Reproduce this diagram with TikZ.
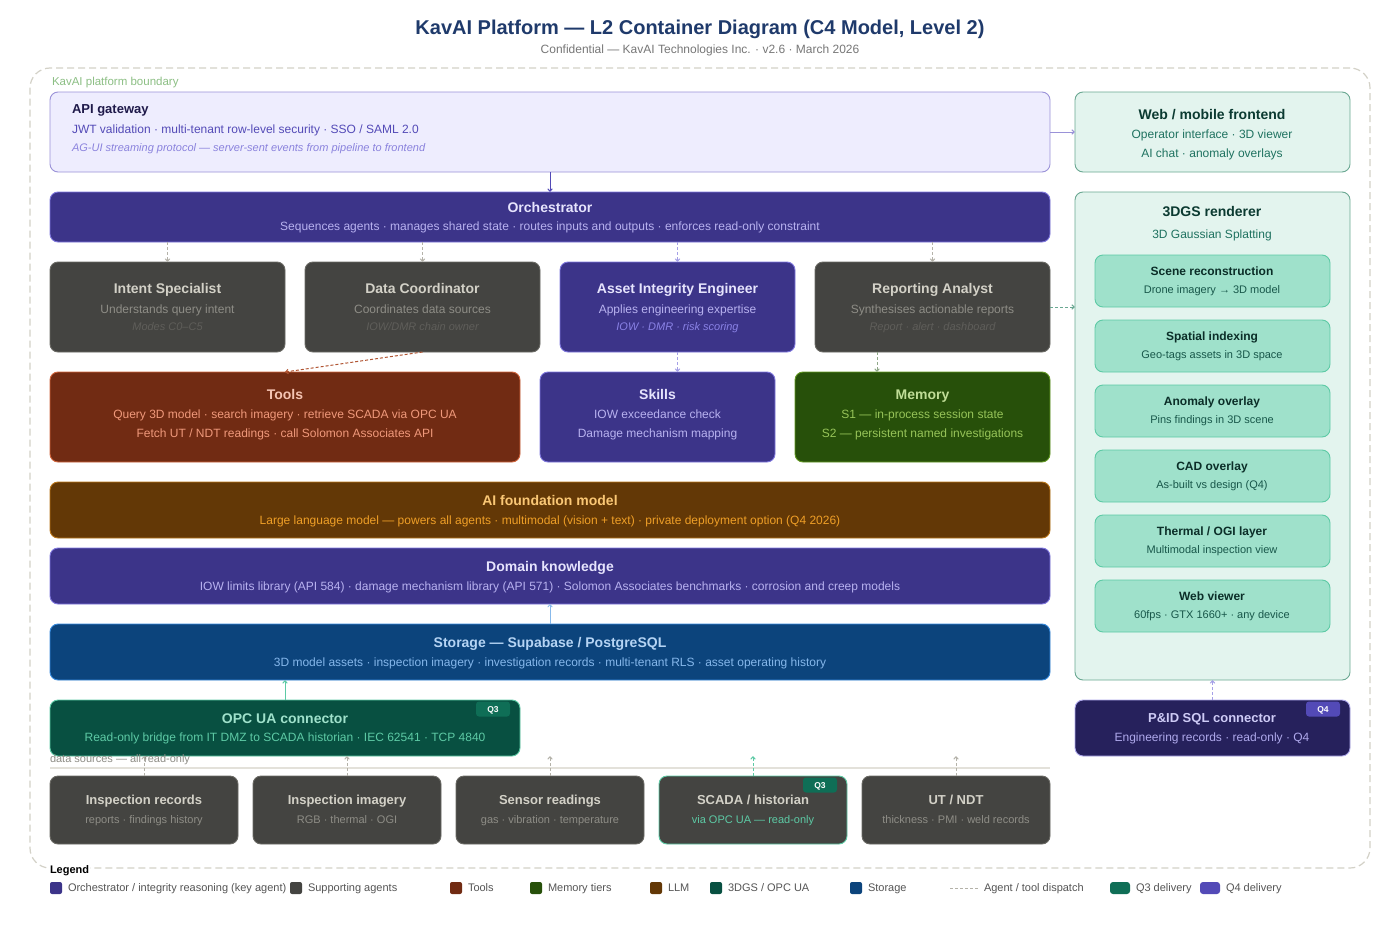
\documentclass[tikz,border=0pt]{standalone}
\usepackage{fontspec}
\setmainfont{Liberation Sans}
\usetikzlibrary{arrows.meta,calc}
\newcommand\kfs[1]{\fontsize{#1pt}{#1pt}\selectfont}
\newcommand\kbox[6]{\node[#2, anchor=north west, minimum width=#5pt, minimum height=#6pt] (#1) at (#3,#4) {};}
\definecolor{cTitle}{HTML}{1F3A6B}
\definecolor{cSub}{HTML}{777777}
\definecolor{cBoundLine}{HTML}{D3D1C7}
\definecolor{cBound}{HTML}{8CBF84}
\definecolor{cApiF}{HTML}{EEEDFE}
\definecolor{cApiB}{HTML}{9A92D8}
\definecolor{cApiT}{HTML}{1F1A4A}
\definecolor{cApiS}{HTML}{534AB7}
\definecolor{cApiI}{HTML}{8A82DD}
\definecolor{cWebF}{HTML}{E3F4EE}
\definecolor{cWebB}{HTML}{6AA892}
\definecolor{cWebT}{HTML}{0B3A31}
\definecolor{cWebS}{HTML}{1F7260}
\definecolor{cPur}{HTML}{3C3489}
\definecolor{cPurB}{HTML}{7F77DD}
\definecolor{cPurT}{HTML}{E6E4FD}
\definecolor{cPurS}{HTML}{B8B2F0}
\definecolor{cPurI}{HTML}{8A82E6}
\definecolor{cGry}{HTML}{444441}
\definecolor{cGryB}{HTML}{6A6964}
\definecolor{cGryT}{HTML}{D3D1C7}
\definecolor{cGryS}{HTML}{8E8D86}
\definecolor{cGryI}{HTML}{5F5E5A}
\definecolor{cTool}{HTML}{712B13}
\definecolor{cToolB}{HTML}{D0643C}
\definecolor{cToolT}{HTML}{F5C4B3}
\definecolor{cToolS}{HTML}{F0997B}
\definecolor{cMem}{HTML}{27500A}
\definecolor{cMemB}{HTML}{639922}
\definecolor{cMemT}{HTML}{C0DD97}
\definecolor{cMemS}{HTML}{97C459}
\definecolor{cLlm}{HTML}{633806}
\definecolor{cLlmB}{HTML}{BA7517}
\definecolor{cLlmT}{HTML}{FAC775}
\definecolor{cLlmS}{HTML}{EF9F27}
\definecolor{cSto}{HTML}{0C447C}
\definecolor{cStoB}{HTML}{378ADD}
\definecolor{cStoT}{HTML}{B5D4F4}
\definecolor{cStoS}{HTML}{85B7EB}
\definecolor{cOpc}{HTML}{085041}
\definecolor{cOpcB}{HTML}{5DCAA5}
\definecolor{cOpcT}{HTML}{9FE1CB}
\definecolor{cOpcS}{HTML}{5DCAA5}
\definecolor{cQ3}{HTML}{0F6E56}
\definecolor{cQ4}{HTML}{534AB7}
\definecolor{cPid}{HTML}{26215C}
\definecolor{cPidB}{HTML}{AFA9EC}
\definecolor{cPidT}{HTML}{CECBF6}
\definecolor{cPidS}{HTML}{AFA9EC}
\definecolor{cGsIn}{HTML}{9FE1CB}
\definecolor{cGsInB}{HTML}{5DCAA5}
\definecolor{cGsT}{HTML}{0B2E28}
\definecolor{cGsS}{HTML}{18574A}
\definecolor{cDash}{HTML}{B4B2A9}
\definecolor{cLeg}{HTML}{555555}
\definecolor{cSep}{HTML}{E3E1DA}
\definecolor{cMemLine}{HTML}{8FA888}
\begin{document}
\begin{tikzpicture}[x=1pt,y=-1pt,
  every node/.style={inner sep=0pt, outer sep=0pt, text depth=0pt},
  bx/.style={rounded corners=8pt, line width=0.9pt},
  boundary/.style={rounded corners=20pt, draw=cBoundLine, line width=1.2pt, dash pattern=on 7pt off 4pt},
  tip/.style={-{Straight Barb[length=2.5pt,width=4.5pt]}},
  dispatch/.style={tip, dash pattern=on 3pt off 2pt, line width=1pt},
  badge/.style={rounded corners=3pt, minimum width=34pt, minimum height=15pt, font=\bfseries\kfs{8.5}, text height=6.1pt, text=white},
  t20/.style={font=\bfseries\kfs{20}, text height=14.3pt},
  t14/.style={font=\bfseries\kfs{14}, text height=10pt},
  t13/.style={font=\bfseries\kfs{13}, text height=9.3pt},
  t12b/.style={font=\bfseries\kfs{12}, text height=8.6pt},
  s12/.style={font=\kfs{12}, text height=8.6pt},
  s11/.style={font=\kfs{11}, text height=7.9pt},
  i11/.style={font=\itshape\kfs{11}, text height=7.9pt},
  sw/.style={rounded corners=2pt, minimum width=12pt, minimum height=12pt, anchor=west},
  lg/.style={font=\kfs{11}, text height=7.9pt, text=cLeg, anchor=west}
]
\fill[white] (0,0) rectangle (1400,950);
\useasboundingbox (0,0) rectangle (1400,950);

% Title
\node[t20, text=cTitle] (title) at (700,27) {KavAI Platform — L2 Container Diagram (C4 Model, Level 2)};
\node[s12, text=cSub] (subtitle) at (700,49) {Confidential — KavAI Technologies Inc. · v2.6 · March 2026};

% Boundary
\kbox{bound}{boundary}{30}{68}{1340}{800}
\node[font=\kfs{11.5}, text height=8.2pt, text=cBound, anchor=west] (boundlbl) at (52,81) {KavAI platform boundary};

% API gateway
\kbox{api}{bx, fill=cApiF, draw=cApiB}{50}{92}{1000}{80}
\node[t13, text=cApiT, anchor=west] (apit) at (72,109) {API gateway};
\node[s12, text=cApiS, anchor=west] (apis) at (72,129) {JWT validation · multi-tenant row-level security · SSO / SAML 2.0};
\node[i11, text=cApiI, anchor=west] (apii) at (72,148) {AG-UI streaming protocol — server-sent events from pipeline to frontend};

% Web frontend
\kbox{web}{bx, fill=cWebF, draw=cWebB}{1075}{92}{275}{80}
\node[t14, text=cWebT] (webt) at (1212,114) {Web / mobile frontend};
\node[s12, text=cWebS] (webs1) at (1212,134) {Operator interface · 3D viewer};
\node[s12, text=cWebS] (webs2) at (1212,153) {AI chat · anomaly overlays};

% Orchestrator
\kbox{orch}{bx, fill=cPur, draw=cPurB}{50}{192}{1000}{50}
\node[t14, text=cPurT] (orcht) at (550,207) {Orchestrator};
\node[s12, text=cPurS] (orchs) at (550,226) {Sequences agents · manages shared state · routes inputs and outputs · enforces read-only constraint};

% Agents
\kbox{intent}{bx, fill=cGry, draw=cGryB}{50}{262}{235}{90}
\node[t14, text=cGryT] (intentt) at (167.5,288) {Intent Specialist};
\node[s12, text=cGryS] (intents) at (167.5,309) {Understands query intent};
\node[i11, text=cGryI] (intenti) at (167.5,327) {Modes C0–C5};

\kbox{dc}{bx, fill=cGry, draw=cGryB}{305}{262}{235}{90}
\node[t14, text=cGryT] (dct) at (422.5,288) {Data Coordinator};
\node[s12, text=cGryS] (dcs) at (422.5,309) {Coordinates data sources};
\node[i11, text=cGryI] (dci) at (422.5,327) {IOW/DMR chain owner};

\kbox{aie}{bx, fill=cPur, draw=cPurB}{560}{262}{235}{90}
\node[t14, text=cPurT] (aiet) at (677.5,288) {Asset Integrity Engineer};
\node[s12, text=cPurS] (aies) at (677.5,309) {Applies engineering expertise};
\node[i11, text=cPurI] (aiei) at (677.5,327) {IOW · DMR · risk scoring};

\kbox{rep}{bx, fill=cGry, draw=cGryB}{815}{262}{235}{90}
\node[t14, text=cGryT] (rept) at (932.5,288) {Reporting Analyst};
\node[s12, text=cGryS] (reps) at (932.5,309) {Synthesises actionable reports};
\node[i11, text=cGryI] (repi) at (932.5,327) {Report · alert · dashboard};

% Tools / Skills / Memory
\kbox{tools}{bx, fill=cTool, draw=cToolB}{50}{372}{470}{90}
\node[t14, text=cToolT] (toolst) at (285,394) {Tools};
\node[s12, text=cToolS] (toolss1) at (285,414) {Query 3D model · search imagery · retrieve SCADA via OPC UA};
\node[s12, text=cToolS] (toolss2) at (285,433) {Fetch UT / NDT readings · call Solomon Associates API};

\kbox{skills}{bx, fill=cPur, draw=cPurB}{540}{372}{235}{90}
\node[t14, text=cPurT] (skillst) at (657.5,394) {Skills};
\node[s12, text=cPurS] (skillss1) at (657.5,414) {IOW exceedance check};
\node[s12, text=cPurS] (skillss2) at (657.5,433) {Damage mechanism mapping};

\kbox{mem}{bx, fill=cMem, draw=cMemB}{795}{372}{255}{90}
\node[t14, text=cMemT] (memt) at (922.5,394) {Memory};
\node[s12, text=cMemS] (mems1) at (922.5,414) {S1 — in-process session state};
\node[s12, text=cMemS] (mems2) at (922.5,433) {S2 — persistent named investigations};

% LLM
\kbox{llm}{bx, fill=cLlm, draw=cLlmB}{50}{482}{1000}{56}
\node[t14, text=cLlmT] (llmt) at (550,500) {AI foundation model};
\node[s12, text=cLlmS] (llms) at (550,520) {Large language model — powers all agents · multimodal (vision + text) · private deployment option (Q4 2026)};

% Domain knowledge
\kbox{dom}{bx, fill=cPur, draw=cPurB}{50}{548}{1000}{56}
\node[t14, text=cPurT] (domt) at (550,566) {Domain knowledge};
\node[s12, text=cPurS] (doms) at (550,586) {IOW limits library (API 584) · damage mechanism library (API 571) · Solomon Associates benchmarks · corrosion and creep models};

% Storage
\kbox{stor}{bx, fill=cSto, draw=cStoB}{50}{624}{1000}{56}
\node[t14, text=cStoT] (stort) at (550,642) {Storage — Supabase / PostgreSQL};
\node[s12, text=cStoS] (stors) at (550,662) {3D model assets · inspection imagery · investigation records · multi-tenant RLS · asset operating history};

% OPC UA connector
\kbox{opc}{bx, fill=cOpc, draw=cOpcB}{50}{700}{470}{56}
\node[t14, text=cOpcT] (opct) at (285,718) {OPC UA connector};
\node[s12, text=cOpcS] (opcs) at (285,737) {Read-only bridge from IT DMZ to SCADA historian · IEC 62541 · TCP 4840};
\node[badge, fill=cQ3] (opcq) at (493,709) {Q3};

% P&ID connector
\kbox{pid}{bx, fill=cPid, draw=cPidB}{1075}{700}{275}{56}
\node[t13, text=cPidT] (pidt) at (1212,718) {P\&ID SQL connector};
\node[s12, text=cPidS] (pids) at (1212,737) {Engineering records · read-only · Q4};
\node[badge, fill=cQ4] (pidq) at (1323,709) {Q4};

% 3DGS renderer
\kbox{gs}{bx, fill=cWebF, draw=cWebB}{1075}{192}{275}{488}
\node[t14, text=cWebT] (gst) at (1212,211) {3DGS renderer};
\node[s12, text=cWebS] (gss) at (1212,234) {3D Gaussian Splatting};

\kbox{gs1}{bx, fill=cGsIn, draw=cGsInB}{1095}{255}{235}{52}
\node[t12b, text=cGsT] (gs1t) at (1212,271) {Scene reconstruction};
\node[s11, text=cGsS] (gs1s) at (1212,290) {Drone imagery → 3D model};
\kbox{gs2}{bx, fill=cGsIn, draw=cGsInB}{1095}{320}{235}{52}
\node[t12b, text=cGsT] (gs2t) at (1212,336) {Spatial indexing};
\node[s11, text=cGsS] (gs2s) at (1212,355) {Geo-tags assets in 3D space};
\kbox{gs3}{bx, fill=cGsIn, draw=cGsInB}{1095}{385}{235}{52}
\node[t12b, text=cGsT] (gs3t) at (1212,401) {Anomaly overlay};
\node[s11, text=cGsS] (gs3s) at (1212,420) {Pins findings in 3D scene};
\kbox{gs4}{bx, fill=cGsIn, draw=cGsInB}{1095}{450}{235}{52}
\node[t12b, text=cGsT] (gs4t) at (1212,466) {CAD overlay};
\node[s11, text=cGsS] (gs4s) at (1212,485) {As-built vs design (Q4)};
\kbox{gs5}{bx, fill=cGsIn, draw=cGsInB}{1095}{515}{235}{52}
\node[t12b, text=cGsT] (gs5t) at (1212,531) {Thermal / OGI layer};
\node[s11, text=cGsS] (gs5s) at (1212,550) {Multimodal inspection view};
\kbox{gs6}{bx, fill=cGsIn, draw=cGsInB}{1095}{580}{235}{52}
\node[t12b, text=cGsT] (gs6t) at (1212,596) {Web viewer};
\node[s11, text=cGsS] (gs6s) at (1212,615) {60fps · GTX 1660+ · any device};

% Data sources
\draw[cSep, line width=2pt] (50,768) -- (1050,768);
\coordinate (dsbus) at (0,756);
\kbox{ds1}{bx, fill=cGry, draw=cGryB}{50}{776}{188}{68}
\node[t13, text=cGryT] (ds1t) at (144,800) {Inspection records};
\node[s11, text=cGryS] (ds1s) at (144,820) {reports · findings history};
\kbox{ds2}{bx, fill=cGry, draw=cGryB}{253}{776}{188}{68}
\node[t13, text=cGryT] (ds2t) at (347,800) {Inspection imagery};
\node[s11, text=cGryS] (ds2s) at (347,820) {RGB · thermal · OGI};
\kbox{ds3}{bx, fill=cGry, draw=cGryB}{456}{776}{188}{68}
\node[t13, text=cGryT] (ds3t) at (550,800) {Sensor readings};
\node[s11, text=cGryS] (ds3s) at (550,820) {gas · vibration · temperature};
\kbox{ds4}{bx, fill=cGry, draw=cOpcB}{659}{776}{188}{68}
\node[t13, text=cGryT] (ds4t) at (753,800) {SCADA / historian};
\node[s11, text=cOpcS] (ds4s) at (753,820) {via OPC UA — read-only};
\node[badge, fill=cQ3] (ds4q) at (820,785) {Q3};
\kbox{ds5}{bx, fill=cGry, draw=cGryB}{862}{776}{188}{68}
\node[t13, text=cGryT] (ds5t) at (956,800) {UT / NDT};
\node[s11, text=cGryS] (ds5s) at (956,820) {thickness · PMI · weld records};

\draw[dispatch, cDash] (ds1.north) -- (ds1.north |- dsbus);
\draw[dispatch, cDash] (ds2.north) -- (ds2.north |- dsbus);
\draw[dispatch, cDash] (ds3.north) -- (ds3.north |- dsbus);
\draw[dispatch, cOpcB] (ds4.north) -- (ds4.north |- dsbus);
\draw[dispatch, cDash] (ds5.north) -- (ds5.north |- dsbus);
\node[s11, text=cGryS, anchor=west] (dslbl) at (50,759) {data sources — all read-only};

% Connectors
\draw[tip, cApiB, line width=1pt] (api.east) -- (web.west);
\draw[tip, cApiS, line width=1pt] (api.south) -- (orch.north);
\draw[dispatch, cDash] (orch.south -| intent.north) -- (intent.north);
\draw[dispatch, cDash] (orch.south -| dc.north) -- (dc.north);
\draw[dispatch, cPurB!70] (orch.south -| aie.north) -- (aie.north);
\draw[dispatch, cDash] (orch.south -| rep.north) -- (rep.north);
\draw[dispatch, cToolB!85!black] (dc.south) -- (tools.north);
\draw[dispatch, cPurB!70] (aie.south) -- (aie.south |- skills.north);
\draw[dispatch, cMemLine] ([xshift=62pt]rep.south west) -- ([xshift=62pt]rep.south west |- mem.north);
\draw[dispatch, cWebB] (rep.east) -- (rep.east -| gs.west);
\draw[tip, cStoB!60, line width=0.8pt] (stor.north) -- (dom.south);
\draw[tip, cOpcB, line width=1pt] (opc.north) -- (opc.north |- stor.south);
\draw[dispatch, cPurB!70] (pid.north) -- (gs.south);

% Legend
\node[font=\bfseries\kfs{11}, text height=7.9pt, text=black, anchor=west, fill=white, inner xsep=1pt, inner ysep=2pt] (legt) at (49,870) {Legend};
\node[sw, fill=cPur] (lg1) at (50,888) {};
\node[lg] (lg1t) at (68,888) {Orchestrator / integrity reasoning (key agent)};
\node[sw, fill=cGry] (lg2) at (290,888) {};
\node[lg] (lg2t) at (308,888) {Supporting agents};
\node[sw, fill=cTool] (lg3) at (450,888) {};
\node[lg] (lg3t) at (468,888) {Tools};
\node[sw, fill=cMem] (lg4) at (530,888) {};
\node[lg] (lg4t) at (548,888) {Memory tiers};
\node[sw, fill=cLlm] (lg5) at (650,888) {};
\node[lg] (lg5t) at (668,888) {LLM};
\node[sw, fill=cOpc] (lg6) at (710,888) {};
\node[lg] (lg6t) at (728,888) {3DGS / OPC UA};
\node[sw, fill=cSto] (lg7) at (850,888) {};
\node[lg] (lg7t) at (868,888) {Storage};
\coordinate (lg8a) at (950,888);
\coordinate (lg8b) at (978,888);
\draw[cDash, line width=1pt, dash pattern=on 3pt off 2pt] (lg8a) -- (lg8b);
\node[lg] (lg8t) at (984,888) {Agent / tool dispatch};
\node[sw, fill=cQ3, minimum width=20pt, rounded corners=3pt] (lg9) at (1110,888) {};
\node[lg] (lg9t) at (1136,888) {Q3 delivery};
\node[sw, fill=cQ4, minimum width=20pt, rounded corners=3pt] (lg10) at (1200,888) {};
\node[lg] (lg10t) at (1226,888) {Q4 delivery};
\end{tikzpicture}
\end{document}
